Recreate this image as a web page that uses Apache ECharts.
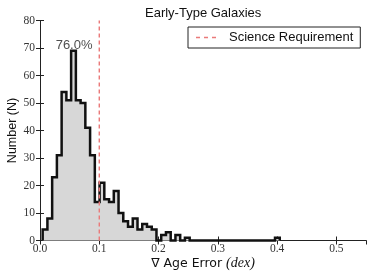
<!DOCTYPE html>
<html>
<head>
<meta charset="utf-8">
<script src="https://cdn.jsdelivr.net/npm/echarts@6/dist/echarts.min.js"></script>
<style>html,body{margin:0;padding:0;background:#fff}#c{width:374px;height:280px}</style>
</head>
<body>
<div id="c"></div>
<script>
// ---- data ----
const binStart = 0.0045;
const binWidth = 0.008;
const counts = [4,8,23,31,54,51,69,51,50,41,31,14,21,15,14,18,10,7,5,8,4,6,5,4,0,2,3,0,2,0,1,
                0,0,0,0,0,0,0,0,0,0,0,0,0,0,0,0,0,0,1];
const requirement = 0.1;
const xTickLabels = ['0.0','0.1','0.2','0.3','0.4','0.5'];
const yTickLabels = ['0','10','20','30','40','50','60','70','80'];
const annotText = '76.0%';
const annotPos = [0.0575, 71];
const titleText = 'Early-Type Galaxies';
const legendName = 'Science Requirement';

// ---- build step outline from bins ----
const edges = counts.map((c, i) => binStart + i * binWidth);
const lastEdge = binStart + counts.length * binWidth;
const stepData = [[edges[0], 0]];
counts.forEach((c, i) => stepData.push([edges[i], c]));
stepData.push([lastEdge, counts[counts.length - 1]]);
stepData.push([lastEdge, 0]);

const serif = 'Liberation Serif';
const sans = 'Liberation Sans';
const axisCommon = {
  axisLine: {show: true, lineStyle: {color: '#222', width: 1}},
  axisTick: {show: true, inside: true, length: 4, lineStyle: {color: '#222', width: 1}},
  splitLine: {show: false}
};

const chart = echarts.init(document.getElementById('c'), null, {renderer: 'canvas'});
chart.setOption({
  animation: false,
  title: {
    text: titleText, left: 145, top: 7, padding: 0,
    textStyle: {fontFamily: sans, fontSize: 13, fontWeight: 'normal', color: '#111'}
  },
  legend: {
    data: [{name: legendName, icon: 'path://M0,0h4v1.5h-4z M8,0h4v1.5h-4z M16,0h4v1.5h-4z',
            itemStyle: {color: '#ea7a7a', borderWidth: 0}}],
    left: 188, top: 27, itemWidth: 20, itemHeight: 1.5,
    borderColor: '#222', borderWidth: 1, borderRadius: 0,
    padding: [4, 7, 4, 8], backgroundColor: '#fff',
    textStyle: {fontFamily: sans, fontSize: 13, color: '#111', padding: [0, 0, 0, 8]}
  },
  grid: {left: 40, right: 8, top: 20.5, bottom: 39.5, containLabel: false, outerBoundsMode: 'none'},
  xAxis: [
    Object.assign({
      type: 'value', min: 0, max: 0.55, interval: 0.1, position: 'bottom',
      axisLabel: {show: true, margin: 2, fontFamily: serif, fontSize: 11.5, color: '#333', showMaxLabel: false,
        formatter: v => { const i = Math.round(v / 0.1); return Math.abs(v - i * 0.1) < 1e-9 ? (xTickLabels[i] || '') : ''; }},
      name: '{a|\u2207 Age Error }{b|(dex)}', nameLocation: 'middle', nameGap: 16, nameMoveOverlap: false,
      nameTextStyle: {rich: {
        a: {fontFamily: 'DejaVu Sans', fontSize: 12.5, color: '#111'},
        b: {fontFamily: serif, fontStyle: 'italic', fontSize: 14, color: '#111'}
      }}
    }, axisCommon),
    Object.assign({
      type: 'value', min: 0, max: 0.55, interval: 0.1, position: 'top',
      axisLabel: {show: false}
    }, axisCommon)
  ],
  yAxis: [
    Object.assign({
      type: 'value', min: 0, max: 80, interval: 10, position: 'left',
      axisLabel: {show: true, margin: 5, fontFamily: serif, fontSize: 11.5, color: '#333',
        formatter: v => yTickLabels[Math.round(v / 10)] || ''},
      name: 'Number (N)', nameLocation: 'middle', nameGap: 21, nameMoveOverlap: false,
      nameTextStyle: {fontFamily: sans, fontSize: 12.5, color: '#111'}
    }, axisCommon),
    Object.assign({
      type: 'value', min: 0, max: 80, interval: 10, position: 'right',
      axisLabel: {show: false}
    }, axisCommon)
  ],
  series: [
    {
      type: 'line', name: 'hist', data: stepData, step: 'end', showSymbol: false, symbol: 'none',
      clip: false, z: 3,
      lineStyle: {color: '#111', width: 2.5, join: 'miter'},
      areaStyle: {color: '#d7d7d7', opacity: 1, origin: 'start'}
    },
    {
      type: 'line', name: legendName, data: [[requirement, 0], [requirement, 80]],
      showSymbol: false, symbol: 'none', color: '#ea7a7a', z: 4,
      lineStyle: {color: '#ea7a7a', width: 1.4, type: [4, 3]}
    },
    {
      type: 'scatter', name: 'annot', data: [annotPos], symbolSize: 1,
      itemStyle: {color: 'rgba(0,0,0,0)'}, z: 5, silent: true,
      label: {show: true, position: 'inside', formatter: annotText,
        fontFamily: sans, fontSize: 13, color: '#222'}
    }
  ]
});
</script>
</body>
</html>
